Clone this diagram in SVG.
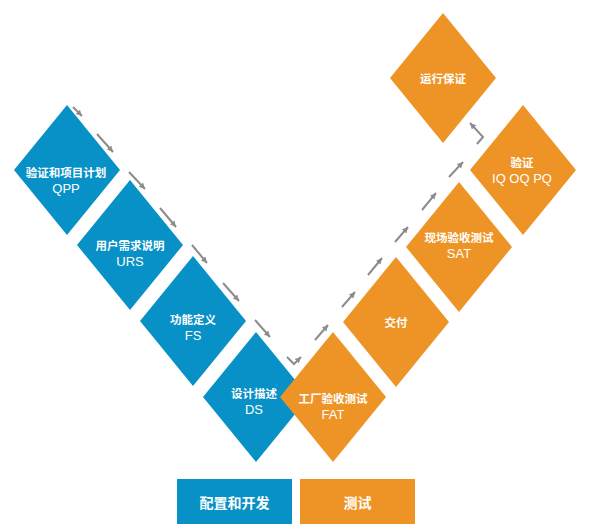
<svg xmlns="http://www.w3.org/2000/svg" width="598" height="526" viewBox="0 0 598 526">
<style>
.blue{fill:#0791C6}
.orange{fill:#EE9426}
.cn{font-family:"Liberation Sans","Noto Sans CJK SC",sans-serif;font-weight:bold;font-size:11.5px;fill:#fff;text-anchor:middle}
.en{font-family:"Liberation Sans","Noto Sans CJK SC",sans-serif;font-size:13px;fill:#fff;text-anchor:middle}
.leg{font-family:"Liberation Sans","Noto Sans CJK SC",sans-serif;font-weight:bold;font-size:14px;fill:#fff;text-anchor:middle}
.arr{fill:none;stroke:#8C8C8C;stroke-width:2;marker-end:url(#ah)}
</style>
<defs>
<marker id="ah" markerUnits="userSpaceOnUse" markerWidth="8" markerHeight="8" refX="6" refY="4" orient="auto">
<path d="M0,1 L6,4 L0,7 Z" fill="#8C8C8C"/>
</marker>
</defs>
<rect width="598" height="526" fill="#fff"/>
<g id="qpp"><polygon class="blue" points="67,105 120,170 67,235 14,170"/><text class="cn" x="66" y="177">验证和项目计划</text><text class="en" x="66" y="192.5">QPP</text></g>
<g id="urs"><polygon class="blue" points="130,180 183,245 130,310 77,245"/><text class="cn" x="130" y="250">用户需求说明</text><text class="en" x="130" y="266">URS</text></g>
<g id="fs"><polygon class="blue" points="193,256 246,321 193,386 140,321"/><text class="cn" x="193" y="324">功能定义</text><text class="en" x="193" y="340">FS</text></g>
<g id="ds"><polygon class="blue" points="256,332 309,397 256,462 203,397"/><text class="cn" x="254" y="398">设计描述</text><text class="en" x="254" y="414">DS</text></g>
<g id="fat"><polygon class="orange" points="333,332 386,397 333,462 280,397"/><text class="cn" x="333" y="403">工厂验收测试</text><text class="en" x="333" y="419">FAT</text></g>
<g id="jiaofu"><polygon class="orange" points="396,257 449,322 396,387 343,322"/><text class="cn" x="396" y="327">交付</text></g>
<g id="sat"><polygon class="orange" points="459,182 512,247 459,312 406,247"/><text class="cn" x="459" y="242">现场验收测试</text><text class="en" x="459" y="258">SAT</text></g>
<g id="iq"><polygon class="orange" points="523,105 576,170 523,235 470,170"/><text class="cn" x="522" y="167">验证</text><text class="en" x="522" y="183">IQ OQ PQ</text></g>
<g id="yunxing"><polygon class="orange" points="443,13 496,78 443,143 390,78"/><text class="cn" x="443" y="83">运行保证</text></g>
<g id="connectors">
<path class="arr" d="M73,107 L82,116"/>
<path class="arr" d="M97,134 L113,152"/>
<path class="arr" d="M129,172 L145,189"/>
<path class="arr" d="M160,208 L176,227"/>
<path class="arr" d="M192,245 L207,263"/>
<path class="arr" d="M223,283 L239,301"/>
<path class="arr" d="M255,320 L270,337"/>
<path class="arr" d="M287,357 L294,364 L301,357"/>
<path class="arr" d="M315,340 L328,325"/>
<path class="arr" d="M342,307 L355,292"/>
<path class="arr" d="M368,275 L382,258"/>
<path class="arr" d="M395,242 L408,227"/>
<path class="arr" d="M422,210 L436,193"/>
<path class="arr" d="M449,177 L463,162"/>
<path class="arr" d="M477,144 L483,137 L470,123"/>
</g>
<g id="legend-blue"><rect class="blue" x="177" y="479" width="115" height="45"/><text class="leg" x="234.5" y="508">配置和开发</text></g>
<g id="legend-orange"><rect class="orange" x="300" y="479" width="115" height="45"/><text class="leg" x="357.5" y="508">测试</text></g>
</svg>
